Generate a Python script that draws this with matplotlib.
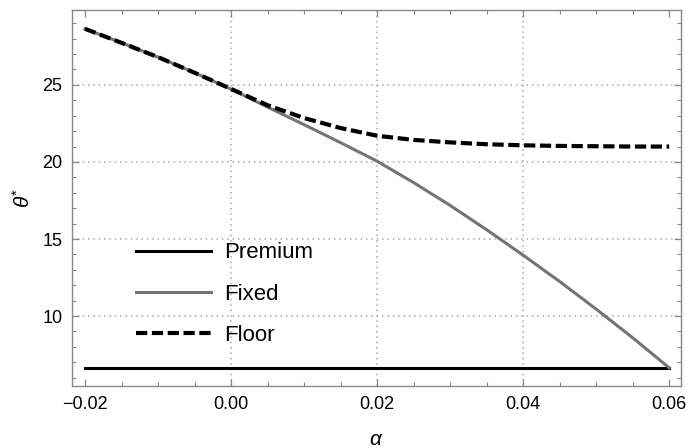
import numpy as np
import matplotlib
matplotlib.use("Agg")
import matplotlib.pyplot as plt
from matplotlib.ticker import MultipleLocator

plt.rcParams['font.family'] = ['Liberation Sans', 'DejaVu Sans']
plt.rcParams['mathtext.fontset'] = 'custom'
plt.rcParams['mathtext.it'] = 'Liberation Sans:italic'
plt.rcParams['mathtext.rm'] = 'Liberation Sans'

# values
alpha = [-0.02, -0.015, -0.01, -0.005, 0.0, 0.005, 0.01, 0.015, 0.02,
         0.025, 0.03, 0.035, 0.04, 0.045, 0.05, 0.055, 0.06]
premium = [6.64] * len(alpha)
fixed = [28.64, 27.73, 26.8, 25.79, 24.72, 23.56, 22.42, 21.25, 20.05,
         18.66, 17.18, 15.6, 13.95, 12.24, 10.45, 8.59, 6.64]
floor = [28.64, 27.73, 26.8, 25.79, 24.74, 23.68, 22.85, 22.2, 21.7,
         21.43, 21.27, 21.15, 21.08, 21.04, 21.02, 21.0, 21.0]

x_ticks = [-0.02, 0.0, 0.02, 0.04, 0.06]
x_labels = ['\u22120.02', '0.00', '0.02', '0.04', '0.06']
y_ticks = [10, 15, 20, 25]
x_grid = [0.0, 0.02, 0.04]

fig = plt.figure(figsize=(6.86, 4.48), dpi=100)
ax = fig.add_axes([0.105, 0.138, 0.888, 0.840])

frame = '#888888'
for xg in x_grid:
    ax.axvline(xg, color='#aaaaaa', lw=1.1, ls=(0, (1, 2.5)), zorder=0)
for yg in y_ticks:
    ax.axhline(yg, color='#aaaaaa', lw=1.1, ls=(0, (1, 2.5)), zorder=0)

ax.plot(alpha, premium, color='black', lw=2.2, label='Premium')
ax.plot(alpha, fixed, color='#747474', lw=2.2, label='Fixed')
ax.plot(alpha, floor, color='black', lw=3.0, ls=(0, (2.7, 1.1)), label='Floor')

ax.set_xlim(-0.02178, 0.06164)
ax.set_ylim(5.45, 29.87)
ax.set_xticks(x_ticks)
ax.set_xticklabels(x_labels)
ax.set_yticks(y_ticks)
ax.xaxis.set_minor_locator(MultipleLocator(0.005))
ax.yaxis.set_minor_locator(MultipleLocator(1))
ax.tick_params(which='both', direction='in', top=True, right=True,
               color=frame, labelsize=13, labelcolor='black')
ax.tick_params(which='major', length=5, width=0.9, pad=7)
ax.tick_params(which='minor', length=3, width=0.8)
ax.tick_params(axis='y', which='both', labelright=False)
for s in ax.spines.values():
    s.set_color(frame)
    s.set_linewidth(1.0)

ax.set_xlabel(r'$\alpha$', fontsize=15, labelpad=12)
ax.set_ylabel(r'$\theta^{*}$', fontsize=15, labelpad=6)

leg = ax.legend(loc='lower left', bbox_to_anchor=(0.072, 0.053), frameon=False,
                fontsize=16, handlelength=3.4, handletextpad=0.55,
                labelspacing=0.92)

fig.savefig('out.png', dpi=100)
